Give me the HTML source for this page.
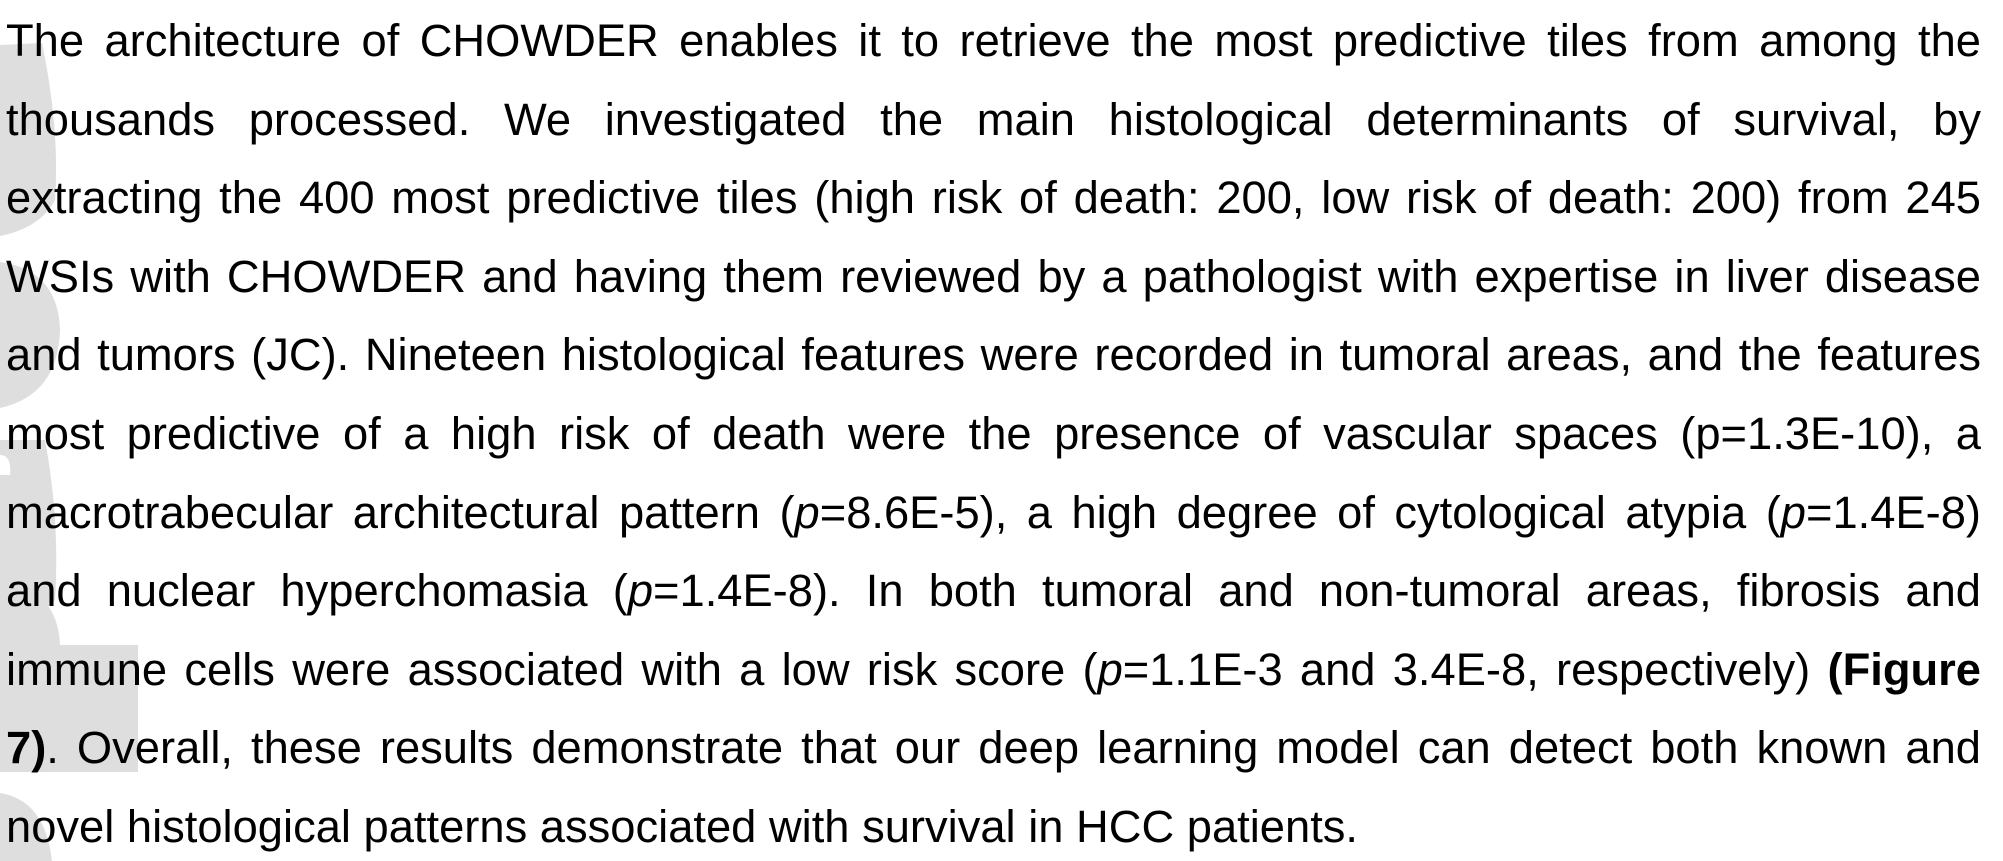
<!DOCTYPE html>
<html><head><meta charset="utf-8"><style>
html,body{margin:0;padding:0;background:#fff;width:2003px;height:861px;overflow:hidden;position:relative}
#wm{position:absolute;left:0;top:0}
#txt{position:absolute;left:6px;top:2px;width:1975px;font-family:"Liberation Sans",Arial,sans-serif;font-size:45.3px;line-height:78.6px;color:#000}
.l{display:block;text-align:justify;text-align-last:justify;white-space:nowrap}
.l.last{text-align-last:left}
</style></head><body>
<svg id="wm" width="2003" height="861">
<path d="M0,45 L42,43 Q60,130 55,200 Q40,228 0,236 Z" fill="#dedede"/>
<path d="M0,262 Q58,270 60,330 Q58,395 0,408 Z" fill="#dedede"/>
<path d="M0,440 L45,440 Q60,520 55,600 Q40,618 0,622 L0,475 L10,475 Q12,455 0,455 Z" fill="#dedede"/>
<path d="M0,578 Q58,590 60,645 L138,645 L138,772 L0,772 Z" fill="#dedede"/>
<path d="M0,793 Q45,800 52,861 L0,861 Z" fill="#dedede"/>
</svg>
<div id="txt">
<span class="l">The architecture of CHOWDER enables it to retrieve the most predictive tiles from among the</span>
<span class="l">thousands processed. We investigated the main histological determinants of survival, by</span>
<span class="l">extracting the 400 most predictive tiles (high risk of death: 200, low risk of death: 200) from 245</span>
<span class="l">WSIs with CHOWDER and having them reviewed by a pathologist with expertise in liver disease</span>
<span class="l">and tumors (JC). Nineteen histological features were recorded in tumoral areas, and the features</span>
<span class="l">most predictive of a high risk of death were the presence of vascular spaces (p=1.3E-10), a</span>
<span class="l">macrotrabecular architectural pattern (<i>p</i>=8.6E-5), a high degree of cytological atypia (<i>p</i>=1.4E-8)</span>
<span class="l">and nuclear hyperchomasia (<i>p</i>=1.4E-8). In both tumoral and non-tumoral areas, fibrosis and</span>
<span class="l">immune cells were associated with a low risk score (<i>p</i>=1.1E-3 and 3.4E-8, respectively) <b>(Figure</b></span>
<span class="l"><b>7)</b>. Overall, these results demonstrate that our deep learning model can detect both known and</span>
<span class="l last">novel histological patterns associated with survival in HCC patients.</span>
</div>
</body></html>
